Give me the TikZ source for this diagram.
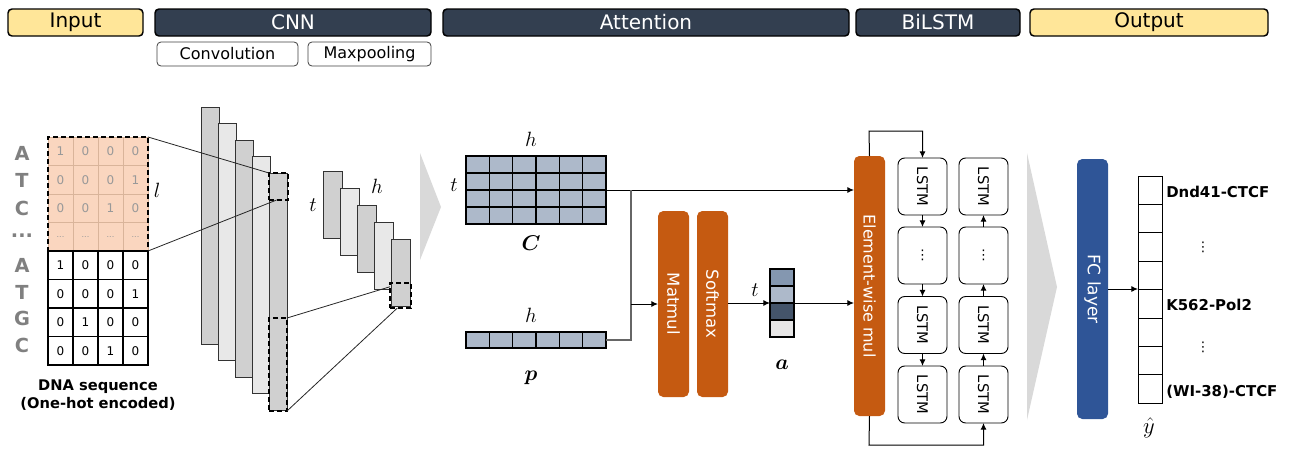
\RequirePackage{fix-cm}
\documentclass[tikz,border=0pt]{standalone}
\usepackage{fontspec}
\setmainfont{DejaVu Sans}
\usepackage{bm}
\usetikzlibrary{fit,calc,arrows.meta}
\definecolor{hdr}{HTML}{333F50}
\definecolor{yel}{HTML}{FFE699}
\definecolor{org}{HTML}{C55A11}
\definecolor{fcb}{HTML}{2F5597}
\definecolor{peach}{HTML}{FAD6BF}
\definecolor{peachline}{HTML}{D9B49A}
\definecolor{cgray}{HTML}{D0D0D0}
\definecolor{clight}{HTML}{E8E8E8}
\definecolor{chev}{HTML}{D9D9D9}
\definecolor{mblue}{HTML}{ADB9CA}
\definecolor{ma}{HTML}{8497B0}
\definecolor{mdark}{HTML}{44546A}
\definecolor{mlg}{HTML}{E7E6E6}
\begin{document}
\begin{tikzpicture}[x=0.75pt,y=-0.75pt,
  fb/.style={inner sep=0pt, outer sep=0pt},
  hdark/.style={fb, draw=black, line width=1.1pt, fill=hdr, rounded corners=3pt},
  hyel/.style={hdark, fill=yel},
  htw/.style={text=white, font=\fontsize{15}{18}\selectfont, inner sep=0pt},
  htb/.style={htw, text=black},
  hsub/.style={fb, draw=black!75, line width=0.6pt, fill=white, rounded corners=3pt},
  hst/.style={font=\fontsize{12}{14}\selectfont, inner sep=0pt},
  csz/.style={minimum width=18.75pt, minimum height=21.375pt},
  cellU/.style={fb, csz, draw=peachline, line width=0.6pt, fill=peach, text=black!40, font=\fontsize{9}{10}\selectfont},
  cellL/.style={fb, csz, draw=black, line width=0.8pt, fill=white, font=\fontsize{9}{10}\selectfont},
  base/.style={font=\bfseries\fontsize{14.5}{16}\selectfont, text=black!50, inner sep=0pt},
  win/.style={fb, draw=black, line width=1.8pt, dash pattern=on 4pt off 2pt},
  convA/.style={fb, draw=black!80, line width=0.7pt, fill=cgray},
  convB/.style={fb, draw=black!80, line width=0.7pt, fill=clight},
  thin/.style={draw=black!85, line width=0.6pt},
  mlab/.style={font=\fontsize{15.5}{18}\selectfont, inner sep=0pt},
  blab/.style={font=\fontsize{16}{18}\selectfont, inner sep=0pt},
  mcell/.style={fb, draw=black, line width=0.8pt, fill=mblue, minimum width=17.5pt, minimum height=12.75pt},
  obox/.style={fb, fill=org, rounded corners=4pt},
  rtxt/.style={rotate=-90, text=white, inner sep=0pt},
  lstm/.style={fb, draw=black, line width=0.7pt, fill=white, rounded corners=5pt, minimum width=36.75pt, minimum height=42.75pt},
  ltxt/.style={font=\fontsize{11}{12}\selectfont, inner sep=0pt},
  dts/.style={font=\fontsize{10}{12}\selectfont, inner sep=0pt},
  arr/.style={draw=black, line width=0.75pt, -{Latex[length=5pt,width=4.5pt]}},
  gline/.style={draw=black!60, line width=0.8pt},
  olab/.style={font=\bfseries\fontsize{11.2}{13}\selectfont, inner sep=0pt, anchor=west},
  ycell/.style={fb, draw=black, line width=0.7pt, fill=white, minimum width=18pt, minimum height=21.3pt}
]
\useasboundingbox (0,0) rectangle (1304,450);

% ---------- header ----------
\node[hyel, fit={(8,9)(143,36)}] (hin) {};
\node[htb] at (hin) {Input};
\node[hdark, fit={(155,9)(431,36)}] (hcnn) {};
\node[htw] at (hcnn) {CNN};
\node[hdark, fit={(443,9)(849,36)}] (hatt) {};
\node[htw] at (hatt) {Attention};
\node[hdark, fit={(856,9)(1020,36)}] (hbil) {};
\node[htw] at (hbil) {BiLSTM};
\node[hyel, fit={(1030,9)(1268,36)}] (hout) {};
\node[htb] at (hout) {Output};
\node[hsub, fit={(157,42)(298,66)}] (hconv) {};
\node[hst] at (hconv) {Convolution};
\node[hsub, fit={(308,42)(431,66)}] (hmax) {};
\node[hst] at (hmax) {Maxpooling};

% ---------- input letters ----------
\foreach \y/\L/\n in {153/A/1,180/T/2,208/C/3,265/A/5,292/T/6,318/G/7,345/C/8}
  \node[base] (let\n) at (22,\y) {\L};
\node[base] (let4) at (22,236) {...};

% ---------- one-hot matrix ----------
\foreach \r/\a/\b/\c/\d in {0/1/0/0/0,1/0/0/0/1,2/0/0/1/0}{
  \foreach \col/\v in {0/\a,1/\b,2/\c,3/\d}{
    \node[cellU] (u\r\col) at ({60.5+25*\col},{151.25+28.5*\r}) {\v};
  }
}
\foreach \col in {0,1,2,3}
  \node[cellU] (u3\col) at ({60.5+25*\col},{236.75}) {\fontsize{6}{7}\selectfont ...};
\foreach \r/\a/\b/\c/\d in {4/1/0/0/0,5/0/0/0/1,6/0/1/0/0,7/0/0/1/0}{
  \foreach \col/\v in {0/\a,1/\b,2/\c,3/\d}{
    \node[cellL] (u\r\col) at ({60.5+25*\col},{151.25+28.5*\r}) {\v};
  }
}
\node[win, fit={(48,137)(148,251)}] (win) {};
\node[mlab] (llab) at (157,190) {$l$};
\node[font=\bfseries\fontsize{11}{13.5}\selectfont, align=center, inner sep=0pt] (dna) at (98,395) {DNA sequence\\(One-hot encoded)};

% ---------- conv stack ----------
\foreach \i in {0,...,4}{
  \pgfmathsetmacro\xa{201+17*\i}
  \pgfmathsetmacro\ya{107+16.5*\i}
  \ifodd\i
    \node[convB, fit={(\xa,\ya)(\xa+18,\ya+237)}] (cv\i) {};
  \else
    \node[convA, fit={(\xa,\ya)(\xa+18,\ya+237)}] (cv\i) {};
  \fi
}
\node[win, fit={(269,173)(288,200)}] (k1) {};
\node[win, fit={(269,318)(287,411)}] (k2) {};
\draw[thin] (win.north east) -- (k1.north west);
\draw[thin] (win.south east) -- ($(k1.south west)!0.4!(k1.south east)$);

% ---------- pooled stack ----------
\foreach \i in {0,...,4}{
  \pgfmathsetmacro\xa{323+17*\i}
  \pgfmathsetmacro\ya{171+17*\i}
  \ifodd\i
    \node[convB, fit={(\xa,\ya)(\xa+19,\ya+67)}] (pl\i) {};
  \else
    \node[convA, fit={(\xa,\ya)(\xa+19,\ya+67)}] (pl\i) {};
  \fi
}
\node[win, fit={(390,283)(411,308)}] (k3) {};
\draw[thin] (k2.north east) -- ($(k3.north west)!0.15!(k3.south west)$);
\draw[thin] (k2.south east) -- ($(k3.south west)!0.35!(k3.south east)$);
\node[mlab] (tcnn) at (313,205) {$t$};
\node[mlab] (hcnnl) at (377,186) {$h$};

% ---------- chevrons ----------
\fill[chev] (420,153) -- (441,207) -- (420,260) -- cycle;
\fill[chev] (1027,153) -- (1057,287) -- (1027,420) -- cycle;

% ---------- C matrix ----------
\foreach \r in {0,...,3}
  \foreach \col in {0,...,5}
    \node[mcell] (c\r\col) at ({477.67+23.33*\col},{164.5+17*\r}) {};
\node[fb, fit={(466,156)(606,224)}] (Cm) {};
\node[mlab] (hC) at (531,139) {$h$};
\node[mlab] (tC) at (454,185) {$t$};
\node[blab] (Clab) at (531,243) {$\bm{C}$};

% ---------- p vector ----------
\foreach \col in {0,...,5}
  \node[mcell, minimum height=12pt] (p\col) at ({477.67+23.33*\col},340) {};
\node[fb, fit={(466,332)(606,348)}] (pv) {};
\node[mlab] (hp) at (531,315) {$h$};
\node[blab] (plab) at (531,378) {$\bm{p}$};

% ---------- attention blocks ----------
\node[obox, fit={(658,211)(689,397)}] (mm) {};
\node[rtxt, font=\fontsize{12.4}{14}\selectfont] at (mm) {Matmul};
\node[obox, fit={(697,211)(728,397)}] (sm) {};
\node[rtxt, font=\fontsize{12.4}{14}\selectfont] at (sm) {Softmax};
\node[obox, fit={(854,156)(885,416)}] (ew) {};
\node[rtxt, font=\fontsize{12}{14}\selectfont] at (ew) {Element-wise mul};

% a vector
\foreach \r/\cc in {0/ma,1/mblue,2/mdark,3/mlg}
  \node[fb, draw=black, line width=0.8pt, fill=\cc, minimum width=18pt, minimum height=12.75pt] (a\r) at (782,{277.5+17*\r}) {};
\node[fb, fit={(770,269)(794,337)}] (av) {};
\node[mlab] (ta) at (755,290) {$t$};
\node[blab] (alab) at (782,365) {$\bm{a}$};

% connectors
\coordinate (j1) at (631,190);
\coordinate (j2) at (631,304);
\draw[arr] (Cm.east) -- (ew.west |- Cm.east);
\draw[gline] (pv.east) -| (j1);
\draw[arr] (j2) -- (mm.west |- j2);
\draw[arr] (sm.east |- av.west) -- (av.west);
\draw[arr] (av.east) -- (ew.west |- av.east);

% ---------- BiLSTM ----------
\foreach \n/\y in {1/186.5,2/255.5,3/325,4/394.5}{
  \node[lstm] (f\n) at (922.5,\y) {};
  \node[lstm] (b\n) at (983.5,\y) {};
}
\foreach \n in {1,3,4}{
  \node[ltxt, rotate=-90] at (f\n) {LSTM};
  \node[ltxt, rotate=-90] at (b\n) {LSTM};
}
\node[dts] (fd) at (922.5,255.5) {⋮};
\node[dts] (bd) at (983.5,255.5) {⋮};
\draw[arr] (f1) -- (f2);
\draw[arr] (f2) -- (f3);
\draw[arr] (f3) -- (f4);
\draw[arr] (b4) -- (b3);
\draw[arr] (b3) -- (b2);
\draw[arr] (b2) -- (b1);
\coordinate (tp) at (869,131);
\coordinate (bt) at (869,445);
\draw[arr] (ew.north) -- (tp) -| (f1.north);
\draw[arr] (ew.south) -- (bt) -| (b4.south);

% ---------- output ----------
\node[fb, fill=fcb, rounded corners=4pt, fit={(1077,159)(1108,419)}] (fc) {};
\node[rtxt, font=\fontsize{12.8}{14}\selectfont] at (fc) {FC layer};
\foreach \r in {0,...,7}
  \node[ycell] (y\r) at (1150,{190.2+28.4*\r}) {};
\node[fb, fit={(1138,176)(1162,403)}] (yv) {};
\draw[arr] (fc.east) -- (yv.west |- fc.east);
\node[olab] (o1) at (1166,192) {Dnd41-CTCF};
\node[dts] (o2) at (1203,247) {⋮};
\node[olab] (o3) at (1166,305) {K562-Pol2};
\node[dts] (o4) at (1203,347) {⋮};
\node[olab] (o5) at (1166,392) {(WI-38)-CTCF};
\node[font=\fontsize{17}{19}\selectfont, inner sep=0pt] (yh) at (1149,428) {$\hat{y}$};
\end{tikzpicture}
\end{document}
